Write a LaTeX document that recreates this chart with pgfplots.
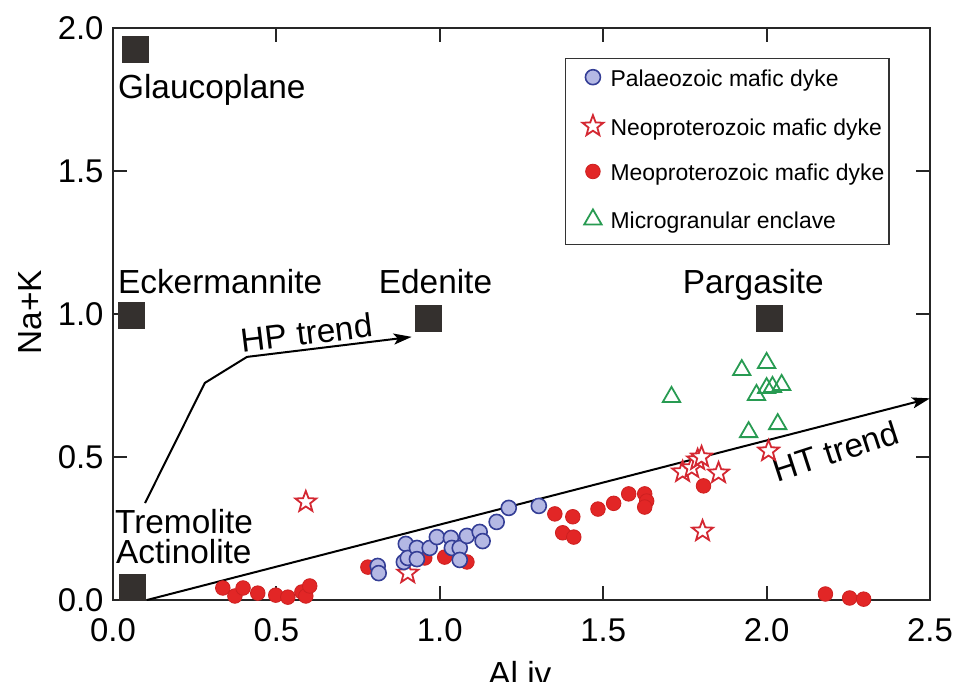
\documentclass[border=0pt]{standalone}
\usepackage{fontspec}
\setmainfont{Liberation Sans}
\usepackage{pgfplots}
\pgfplotsset{compat=1.18}
\usetikzlibrary{arrows.meta}
\usepgflibrary{plotmarks}

\definecolor{mred}{RGB}{226,38,38}
\definecolor{mrededge}{RGB}{205,32,32}
\definecolor{pblue}{RGB}{180,184,228}
\definecolor{pblueedge}{RGB}{52,62,150}
\definecolor{nstar}{RGB}{212,40,50}
\definecolor{menc}{RGB}{40,155,82}
\definecolor{endm}{RGB}{52,48,46}

% outlined five-pointed star
\pgfdeclareplotmark{ostar}{%
  \pgfpathmoveto{\pgfqpointpolar{90}{\pgfplotmarksize}}%
  \pgfpathlineto{\pgfqpointpolar{126}{.42\pgfplotmarksize}}%
  \pgfpathlineto{\pgfqpointpolar{162}{\pgfplotmarksize}}%
  \pgfpathlineto{\pgfqpointpolar{198}{.42\pgfplotmarksize}}%
  \pgfpathlineto{\pgfqpointpolar{234}{\pgfplotmarksize}}%
  \pgfpathlineto{\pgfqpointpolar{270}{.42\pgfplotmarksize}}%
  \pgfpathlineto{\pgfqpointpolar{306}{\pgfplotmarksize}}%
  \pgfpathlineto{\pgfqpointpolar{342}{.42\pgfplotmarksize}}%
  \pgfpathlineto{\pgfqpointpolar{18}{\pgfplotmarksize}}%
  \pgfpathlineto{\pgfqpointpolar{54}{.42\pgfplotmarksize}}%
  \pgfpathclose
  \pgfusepathqfillstroke
}

\pgfplotsset{
  mesoS/.style={only marks, mark=*, mark size=7.3bp, mark options={fill=mred, draw=mrededge, line width=0.8bp}},
  neoS/.style={only marks, mark=ostar, mark size=11bp, mark options={fill=white, draw=nstar, line width=1.8bp}},
  palS/.style={only marks, mark=*, mark size=7.5bp, mark options={fill=pblue, draw=pblueedge, line width=1.6bp}},
  encS/.style={only marks, mark=triangle, mark size=10bp, mark options={draw=menc, line width=1.8bp}},
  endS/.style={only marks, mark=square*, mark size=13bp, mark options={fill=endm, draw=endm, line width=0.5bp}},
}

\newcommand\bigfont{\fontsize{33.5}{38}\selectfont}
\newcommand\tickfont{\fontsize{33}{38}\selectfont}

\begin{document}
\begin{tikzpicture}
\begin{axis}[
  name=ax,
  scale only axis,
  width=817bp, height=572bp,
  xmin=0, xmax=2.5, ymin=0, ymax=2.0,
  xtick={0,0.5,1,1.5,2,2.5},
  ytick={0,0.5,1,1.5,2},
  tick align=inside,
  major tick length=14bp,
  axis line style={line width=2bp, black!85},
  every tick/.style={line width=2bp, black!85},
  tick label style={font=\tickfont},
  xticklabel style={yshift=-15bp},
  yticklabel style={xshift=-6bp},
  /pgf/number format/fixed,
  /pgf/number format/fixed zerofill,
  /pgf/number format/precision=1,
  /pgf/number format/assume math mode=true,
  clip=false,
  xlabel={Al iv}, ylabel={Na+K},
  label style={font=\bigfont},
  xlabel style={at={(axis description cs:0.498,-0.128)}, anchor=center},
  ylabel style={at={(axis description cs:-0.1016,0.503)}, anchor=center},
  legend cell align=left,
  legend image code/.code={%
    \path (0bp,0bp) (39.5bp,0bp);
    \draw[#1] plot coordinates {(24bp,0.35em)};
  },
  legend style={
    at={(axis cs:1.382,1.895)}, anchor=north west,
    draw=black!80, line width=1.3bp, fill=white,
    font=\fontsize{23}{27}\selectfont,
    inner xsep=3bp, inner ysep=11bp,
    nodes={inner xsep=1.5bp, inner ysep=0bp, text height=16bp, text depth=5bp},
    row sep=24bp,
  },
]

% legend
\addlegendimage{palS}
\addlegendentry{Palaeozoic mafic dyke}
\addlegendimage{neoS}
\addlegendentry{Neoproterozoic mafic dyke}
\addlegendimage{mesoS}
\addlegendentry{Meoproterozoic mafic dyke}
\addlegendimage{encS}
\addlegendentry{Microgranular enclave}

% trends
\addplot[line width=2bp, black, -{Stealth[length=18bp, width=11bp, inset=4bp]}, forget plot]
  coordinates {(0.098,0.339) (0.281,0.759) (0.410,0.850) (0.914,0.920)};
\addplot[line width=2bp, black, -{Stealth[length=18bp, width=11bp, inset=4bp]}, forget plot]
  coordinates {(0.104,0.0) (2.5,0.705)};

% Meoproterozoic mafic dyke
\addplot[mesoS, forget plot] coordinates {
  (0.336,0.042) (0.373,0.014) (0.398,0.042) (0.443,0.024) (0.498,0.017)
  (0.535,0.010) (0.578,0.028) (0.590,0.014) (0.602,0.049)
  (0.780,0.115) (0.954,0.147) (1.015,0.150) (1.083,0.133)
  (1.352,0.301) (1.407,0.291) (1.376,0.235) (1.410,0.220) (1.484,0.318)
  (1.532,0.338) (1.578,0.371) (1.627,0.371) (1.633,0.346) (1.627,0.325)
  (1.807,0.399)
  (2.180,0.021) (2.254,0.007) (2.297,0.003)
};

% Neoproterozoic mafic dyke
\addplot[neoS, forget plot] coordinates {
  (0.590,0.343) (0.902,0.094) (1.743,0.448) (1.771,0.462) (1.789,0.490)
  (1.801,0.500) (1.853,0.444) (1.804,0.241) (2.006,0.521)
};

% Palaeozoic mafic dyke
\addplot[palS, forget plot] coordinates {
  (0.810,0.119) (0.813,0.094) (0.896,0.196) (0.890,0.133) (0.902,0.147)
  (0.930,0.182) (0.930,0.143) (0.969,0.182) (0.991,0.220) (1.034,0.217)
  (1.037,0.182) (1.061,0.182) (1.061,0.140) (1.083,0.224) (1.122,0.238)
  (1.131,0.206) (1.174,0.273) (1.211,0.322) (1.303,0.329)
};

% Microgranular enclave
\addplot[encS, forget plot] coordinates {
  (1.709,0.710) (1.924,0.804) (2.000,0.829) (1.969,0.717) (2.000,0.741)
  (2.018,0.745) (2.046,0.752) (1.945,0.587) (2.034,0.615)
};

% amphibole end-members
\addplot[endS, forget plot] coordinates {
  (0.067,1.925) (0.057,0.995) (0.965,0.984) (2.008,0.986) (0.058,0.044)
};

\node[font=\bigfont, anchor=base west, inner sep=0pt] at (axis cs:0.015,1.752) {Glaucoplane};
\node[font=\bigfont, anchor=base west, inner sep=0pt] at (axis cs:0.015,1.073) {Eckermannite};
\node[font=\bigfont, anchor=base west, inner sep=0pt] at (axis cs:0.813,1.073) {Edenite};
\node[font=\bigfont, anchor=base west, inner sep=0pt] at (axis cs:1.743,1.073) {Pargasite};
\node[font=\bigfont, anchor=base west, inner sep=0pt] at (axis cs:0.006,0.234) {Tremolite};
\node[font=\bigfont, anchor=base west, inner sep=0pt] at (axis cs:0.009,0.129) {Actinolite};

\node[font=\bigfont, rotate=7] at (axis cs:0.593,0.934) {HP trend};
\node[font=\bigfont, rotate=18] at (axis cs:2.211,0.521) {HT trend};
\end{axis}
\pgfresetboundingbox
\path ([shift={(-113bp,-82bp)}]ax.south west) rectangle ([shift={(27bp,28bp)}]ax.north east);
\end{tikzpicture}
\end{document}
